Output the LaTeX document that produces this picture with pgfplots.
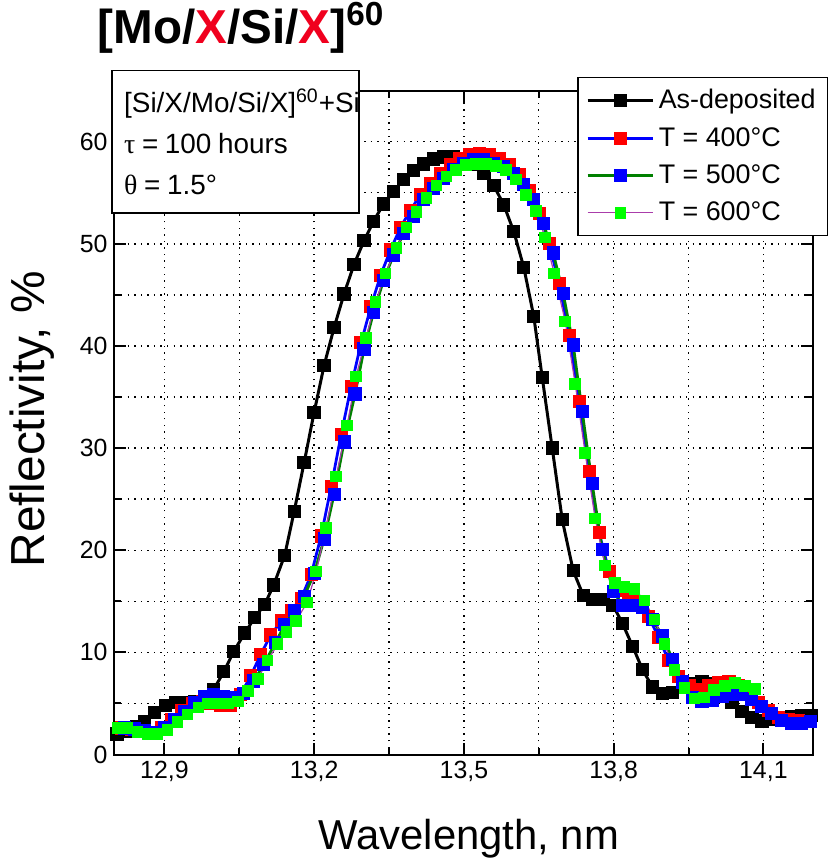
\documentclass[border=0pt]{standalone}
\usepackage{fontspec}
\setmainfont{Liberation Sans}
\newfontfamily\symb{Liberation Serif}
\usepackage{pgfplots}
\pgfplotsset{compat=1.18}
\definecolor{dgreen}{RGB}{0,128,0}
\definecolor{lgreen}{RGB}{0,255,0}
\definecolor{purp}{RGB}{170,60,170}
\definecolor{tred}{RGB}{240,0,30}
\begin{document}
\begin{tikzpicture}
\begin{axis}[
  at={(0,0)}, anchor=south west,
  width=351pt, height=333.5pt, scale only axis,
  xmin=12.8, xmax=14.2, ymin=0, ymax=65,
  xtick={12.9,13.2,13.5,13.8,14.1},
  ytick={0,10,20,30,40,50,60},
  minor x tick num=1, minor y tick num=1,
  grid=both,
  major grid style={line width=0.7pt, black, dash pattern=on 0.7pt off 2.6pt},
  minor grid style={line width=0.7pt, black, dash pattern=on 0.7pt off 2.6pt},
  tick align=inside,
  major tick length=6pt, minor tick length=3.5pt,
  every tick/.style={black, line width=1pt},
  axis line style={line width=1pt},
  /pgf/number format/assume math mode=true,
  xticklabel style={/pgf/number format/.cd, fixed, fixed zerofill, precision=1, use comma},
  ticklabel style={font=\fontsize{12.5}{14}\selectfont},
  xlabel={Wavelength, nm},
  ylabel={Reflectivity, \%},
  xlabel style={font=\fontsize{21}{24}\selectfont, at={(axis description cs:0.507,-0.127)}, anchor=center},
  ylabel style={font=\fontsize{24}{26}\selectfont, at={(axis description cs:-0.118,0.505)}, anchor=center},
  legend cell align=left,
  legend style={at={(rel axis cs:0.6624,1.021)}, anchor=north west, draw=black, line width=0.75pt, fill=white,
    font=\fontsize{13.5}{15}\selectfont, row sep=3.8pt, inner xsep=4pt, inner ysep=4pt},
  legend image code/.code={\draw[mark repeat=2,mark phase=2] plot coordinates {(0pt,0pt) (16.5pt,0pt) (33pt,0pt)};},
  mark size=2.6pt,
]
\addplot[black, line width=1.5pt, mark=square*, mark options={solid, fill=black, draw=black}] coordinates {
(12.805,2.0)(12.824,2.3)(12.844,2.7)(12.860,3.2)(12.880,4.1)(12.902,4.8)(12.922,5.1)(12.940,5.1)(12.960,5.2)(12.980,5.6)(12.999,6.4)(13.019,8.1)(13.039,10.1)(13.061,11.9)(13.081,13.4)(13.101,14.7)(13.119,16.6)(13.141,19.5)(13.160,23.8)(13.180,28.6)(13.200,33.5)(13.220,38.1)(13.240,41.8)(13.260,45.1)(13.280,48.0)(13.300,50.3)(13.319,52.2)(13.339,53.9)(13.359,55.1)(13.379,56.3)(13.399,57.2)(13.419,57.8)(13.439,58.3)(13.459,58.5)(13.479,58.5)(13.498,58.3)(13.518,57.8)(13.540,56.9)(13.560,55.7)(13.580,53.8)(13.600,51.2)(13.620,47.7)(13.640,42.9)(13.657,36.9)(13.677,30.0)(13.697,23.0)(13.719,18.0)(13.739,15.6)(13.759,15.2)(13.779,15.2)(13.799,14.6)(13.818,12.8)(13.838,10.6)(13.858,8.3)(13.878,6.6)(13.898,6.0)(13.918,6.1)(13.938,6.6)(13.958,6.9)(13.977,7.1)(13.997,6.9)(14.017,6.3)(14.037,5.1)(14.057,4.2)(14.077,3.6)(14.097,3.3)(14.117,3.4)(14.137,3.5)(14.156,3.7)(14.176,3.8)(14.196,3.8)
};
\addlegendentry{As-deposited}
\addplot[blue, line width=1.4pt, mark=square*, mark options={solid, fill=red, draw=red}] coordinates {
(12.815,2.6)(12.834,2.5)(12.854,2.3)(12.874,2.2)(12.894,2.6)(12.914,3.4)(12.934,4.3)(12.956,5.0)(12.976,5.2)(12.993,5.0)(13.013,4.8)(13.033,4.8)(13.053,5.9)(13.073,7.7)(13.093,9.8)(13.113,11.7)(13.135,13.1)(13.154,14.1)(13.174,15.3)(13.194,17.6)(13.214,21.4)(13.234,26.2)(13.254,31.3)(13.274,36.0)(13.294,40.3)(13.314,43.9)(13.333,46.9)(13.353,49.4)(13.373,51.6)(13.393,53.3)(13.413,54.8)(13.433,55.9)(13.453,56.9)(13.473,57.8)(13.492,58.3)(13.512,58.7)(13.532,58.8)(13.552,58.7)(13.572,58.3)(13.592,57.8)(13.612,56.8)(13.632,55.2)(13.651,53.0)(13.671,50.0)(13.691,46.1)(13.711,41.0)(13.731,34.6)(13.751,27.7)(13.771,21.7)(13.791,17.9)(13.811,16.1)(13.830,15.6)(13.850,15.0)(13.870,13.5)(13.890,11.5)(13.910,9.2)(13.930,7.6)(13.952,6.8)(13.972,6.4)(13.991,6.8)(14.011,7.0)(14.031,7.1)(14.051,6.8)(14.071,6.1)(14.091,5.1)(14.111,4.3)(14.131,3.6)(14.150,3.4)(14.170,3.3)(14.190,3.2)
};
\addlegendentry{T = 400°C}
\addplot[dgreen, line width=1.4pt, mark=square*, mark options={solid, fill=blue, draw=blue}] coordinates {
(12.820,2.6)(12.840,2.5)(12.860,2.3)(12.880,2.2)(12.900,2.6)(12.920,3.4)(12.940,4.2)(12.960,5.1)(12.980,5.7)(12.999,5.9)(13.019,5.7)(13.039,5.6)(13.059,6.0)(13.079,7.2)(13.099,8.8)(13.123,11.0)(13.141,12.7)(13.160,14.1)(13.180,15.5)(13.200,17.7)(13.220,21.1)(13.240,25.5)(13.260,30.6)(13.282,35.3)(13.300,39.7)(13.319,43.3)(13.339,46.4)(13.359,48.9)(13.379,51.0)(13.399,52.7)(13.419,54.3)(13.439,55.4)(13.459,56.4)(13.479,57.3)(13.500,57.9)(13.520,58.2)(13.540,58.2)(13.560,57.9)(13.580,57.6)(13.600,56.9)(13.620,55.8)(13.640,54.3)(13.659,52.0)(13.679,49.1)(13.699,45.1)(13.719,40.1)(13.737,33.6)(13.757,26.5)(13.777,20.1)(13.799,16.0)(13.818,14.6)(13.838,14.6)(13.858,14.4)(13.878,13.2)(13.898,11.6)(13.918,9.3)(13.938,7.1)(13.958,5.6)(13.977,5.2)(13.997,5.3)(14.017,5.7)(14.037,5.9)(14.057,5.9)(14.077,5.4)(14.097,4.7)(14.117,4.0)(14.137,3.3)(14.156,3.0)(14.176,3.0)(14.194,3.2)
};
\addlegendentry{T = 500°C}
\addplot[purp, line width=0.6pt, mark=square*, mark options={solid, fill=lgreen, draw=lgreen}] coordinates {
(12.807,2.6)(12.826,2.6)(12.846,2.2)(12.866,2.0)(12.886,2.0)(12.906,2.4)(12.926,3.2)(12.946,3.9)(12.968,4.6)(12.987,5.0)(13.007,5.0)(13.027,5.0)(13.047,5.2)(13.067,6.2)(13.087,7.4)(13.107,9.2)(13.127,10.8)(13.145,12.0)(13.164,13.1)(13.186,14.9)(13.204,17.9)(13.224,22.2)(13.244,27.2)(13.266,32.2)(13.284,37.0)(13.304,40.8)(13.323,44.3)(13.343,47.1)(13.365,49.6)(13.385,51.6)(13.405,53.1)(13.425,54.5)(13.445,55.7)(13.465,56.6)(13.484,57.2)(13.504,57.7)(13.524,57.8)(13.544,57.8)(13.564,57.6)(13.584,57.2)(13.604,56.3)(13.624,54.8)(13.644,53.2)(13.663,50.6)(13.681,47.1)(13.703,42.4)(13.723,36.3)(13.743,29.5)(13.763,23.1)(13.783,18.5)(13.803,16.8)(13.822,16.4)(13.842,16.2)(13.862,15.1)(13.882,13.2)(13.902,10.8)(13.922,8.3)(13.942,6.5)(13.962,5.5)(13.981,5.6)(14.001,6.3)(14.023,6.7)(14.043,7.0)(14.063,6.7)(14.083,6.4)
};
\addlegendentry{T = 600°C}
\end{axis}
% info box
\node[draw=black, line width=0.75pt, fill=white, anchor=north west, inner sep=0pt,
      minimum width=124pt, minimum height=71.5pt, align=left, text width=124pt] at (-1.5pt,344pt)
  {\hspace*{6pt}\begin{minipage}{115pt}\fontsize{14}{20.5}\selectfont
   [Si/X/Mo/Si/X]\textsuperscript{60}+Si\\
   {\symb τ} = 100 hours\\
   {\symb θ} = 1.5°\end{minipage}};
% title
\node[anchor=base west, inner sep=0pt] at (-8.5pt,357pt)
  {\fontsize{23.9}{24}\selectfont\bfseries [Mo/\textcolor{tred}{X}/Si/\textcolor{tred}{X}]\textsuperscript{60}};
\path (-57.5pt,-53.5pt) rectangle (359.5pt,379pt);
\end{tikzpicture}
\end{document}
